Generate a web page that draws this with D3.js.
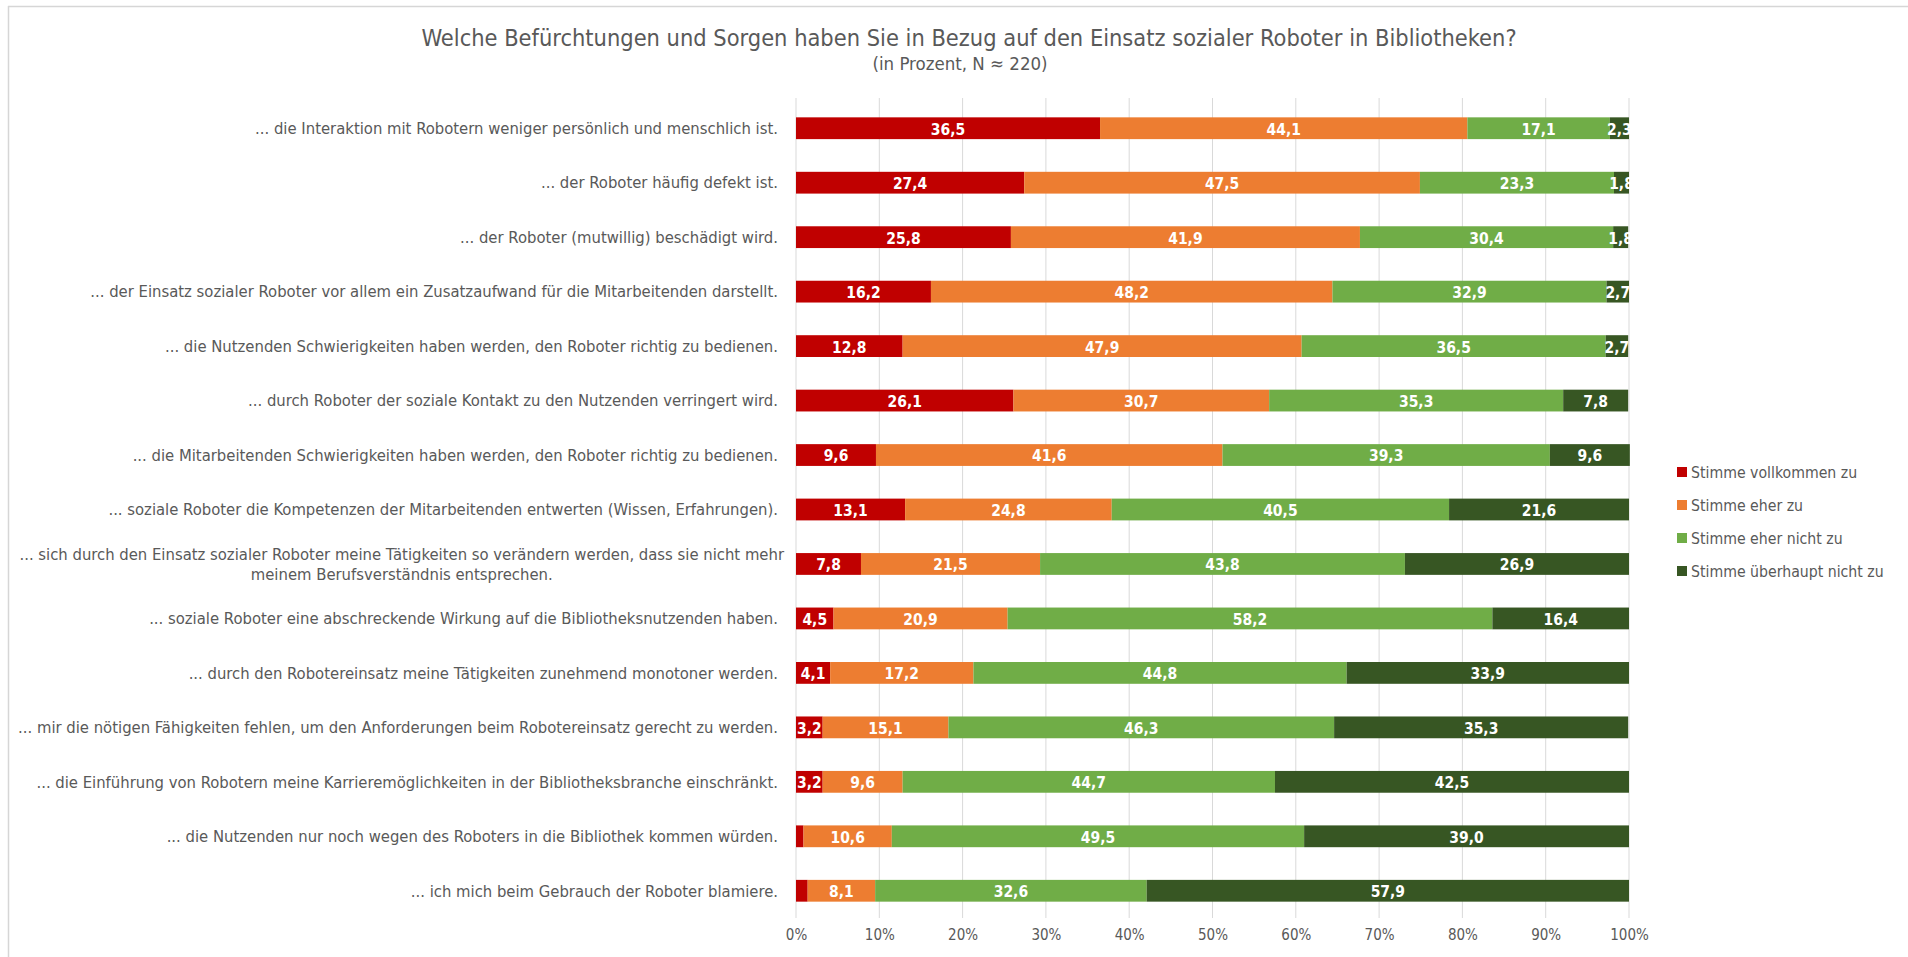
<!DOCTYPE html>
<html>
<head>
<meta charset="utf-8">
<script src="https://cdn.jsdelivr.net/npm/d3@7"></script>
<style>
  html, body { margin: 0; padding: 0; background: #fff; }
  svg { display: block; }
  .f { font-family: "Liberation Sans Narrow", "DejaVu Sans Condensed", "Noto Sans", sans-serif; }
</style>
</head>
<body>
<svg id="chart" width="1908" height="957"></svg>
<script>
const title = "Welche Befürchtungen und Sorgen haben Sie in Bezug auf den Einsatz sozialer Roboter in Bibliotheken?";
const subtitle = "(in Prozent, N ≈ 220)";
const categories = [
  ["... die Interaktion mit Robotern weniger persönlich und menschlich ist."],
  ["... der Roboter häufig defekt ist."],
  ["... der Roboter (mutwillig) beschädigt wird."],
  ["... der Einsatz sozialer Roboter vor allem ein Zusatzaufwand für die Mitarbeitenden darstellt."],
  ["... die Nutzenden Schwierigkeiten haben werden, den Roboter richtig zu bedienen."],
  ["... durch Roboter der soziale Kontakt zu den Nutzenden verringert wird."],
  ["... die Mitarbeitenden Schwierigkeiten haben werden, den Roboter richtig zu bedienen."],
  ["... soziale Roboter die Kompetenzen der Mitarbeitenden entwerten (Wissen, Erfahrungen)."],
  ["... sich durch den Einsatz sozialer Roboter meine Tätigkeiten so verändern werden, dass sie nicht mehr", "meinem Berufsverständnis entsprechen."],
  ["... soziale Roboter eine abschreckende Wirkung auf die Bibliotheksnutzenden haben."],
  ["... durch den Robotereinsatz meine Tätigkeiten zunehmend monotoner werden."],
  ["... mir die nötigen Fähigkeiten fehlen, um den Anforderungen beim Robotereinsatz gerecht zu werden."],
  ["... die Einführung von Robotern meine Karrieremöglichkeiten in der Bibliotheksbranche einschränkt."],
  ["... die Nutzenden nur noch wegen des Roboters in die Bibliothek kommen würden."],
  ["... ich mich beim Gebrauch der Roboter blamiere."]
];
const seriesNames = ["Stimme vollkommen zu", "Stimme eher zu", "Stimme eher nicht zu", "Stimme überhaupt nicht zu"];
const seriesColors = ["#C00000", "#ED7D31", "#70AD47", "#375623"];
const vollkommen = [36.5, 27.4, 25.8, 16.2, 12.8, 26.1, 9.6, 13.1, 7.8, 4.5, 4.1, 3.2, 3.2, 0.9, 1.4];
const eher       = [44.1, 47.5, 41.9, 48.2, 47.9, 30.7, 41.6, 24.8, 21.5, 20.9, 17.2, 15.1, 9.6, 10.6, 8.1];
const eherNicht  = [17.1, 23.3, 30.4, 32.9, 36.5, 35.3, 39.3, 40.5, 43.8, 58.2, 44.8, 46.3, 44.7, 49.5, 32.6];
const ueberhaupt = [2.3, 1.8, 1.8, 2.7, 2.7, 7.8, 9.6, 21.6, 26.9, 16.4, 33.9, 35.3, 42.5, 39.0, 57.9];
const xTicks = [0, 10, 20, 30, 40, 50, 60, 70, 80, 90, 100];

const svg = d3.select("#chart");
const W = 1908, H = 957;
const M = { left: 796, right: 1629, top: 101, bottom: 918 };

// frame (spreadsheet border)
svg.append("line").attr("x1", 8).attr("x2", W).attr("y1", 6.5).attr("y2", 6.5).attr("stroke", "#d6d6d6").attr("stroke-width", 1.5);
svg.append("line").attr("x1", 8.5).attr("x2", 8.5).attr("y1", 6).attr("y2", H).attr("stroke", "#d6d6d6").attr("stroke-width", 1.5);

const x = d3.scaleLinear().domain([0, 100]).range([M.left, M.right]);
const y = d3.scaleBand().domain(d3.range(categories.length)).range([M.top, M.bottom]).paddingInner(0.6).paddingOuter(0.3);

// gridlines
svg.append("g").selectAll("line").data(xTicks).join("line")
  .attr("x1", d => x(d)).attr("x2", d => x(d))
  .attr("y1", M.top - 3).attr("y2", M.bottom)
  .attr("stroke", "#d9d9d9").attr("stroke-width", 1);

// x axis labels
const xAxis = d3.axisBottom(x).tickValues(xTicks).tickFormat(d => d + "%").tickSize(0).tickPadding(0);
const gx = svg.append("g").attr("transform", `translate(0,${M.bottom + 17})`).call(xAxis);
gx.select(".domain").remove();
gx.selectAll("text").attr("font-size", 15).attr("fill", "#595959").attr("dy", "0.35em")
  .style("font-family", '"Liberation Sans Narrow", "DejaVu Sans Condensed", sans-serif');

// stacked data
const rows = categories.map((c, i) => ({ i, v: [vollkommen[i], eher[i], eherNicht[i], ueberhaupt[i]] }));
const keys = [0, 1, 2, 3];
const stack = d3.stack().keys(keys).value((d, k) => d.v[k]);
const stacked = stack(rows);

svg.append("defs").append("clipPath").attr("id", "plotclip")
  .append("rect").attr("x", M.left).attr("y", 0).attr("width", M.right - M.left + 1).attr("height", H);

const layers = svg.append("g").selectAll("g").data(stacked).join("g").attr("fill", (d, k) => seriesColors[k]);
layers.selectAll("rect").data(d => d).join("rect")
  .attr("x", d => x(d[0])).attr("width", d => Math.max(0, x(d[1]) - x(d[0])))
  .attr("y", d => y(d.data.i)).attr("height", y.bandwidth());

// value labels
const lblG = svg.append("g").attr("clip-path", "url(#plotclip)");
stacked.forEach((layer, k) => {
  lblG.append("g").selectAll("text").data(layer.filter(d => d.data.v[k] >= 1.5)).join("text")
    .attr("class", "f")
    .attr("x", d => x((d[0] + d[1]) / 2)).attr("y", d => y(d.data.i) + y.bandwidth() / 2 + 1)
    .attr("text-anchor", "middle").attr("dy", "0.35em")
    .attr("font-size", 15.5).attr("font-weight", "bold").attr("fill", "#fff")
    .text(d => d3.format(".1f")(d.data.v[k]).replace(".", ","));
});

// category labels
const catG = svg.append("g");
const LFS = 16.5;
categories.forEach((lines, i) => {
  const cy = y(i) + y.bandwidth() / 2;
  const n = lines.length;
  const t = catG.append("text").attr("class", "f").attr("font-size", LFS).attr("fill", "#595959");
  if (n === 1) {
    t.attr("x", 778).attr("y", cy).attr("dy", "0.35em").attr("text-anchor", "end").text(lines[0]);
  } else {
    const t1 = t.attr("x", 784).attr("y", cy - 10).attr("dy", "0.35em").attr("text-anchor", "end").text(lines[0]);
    const w = t1.node().getComputedTextLength();
    catG.append("text").attr("class", "f").attr("font-size", LFS).attr("fill", "#595959")
      .attr("x", 784 - w / 2).attr("y", cy + 10).attr("dy", "0.35em").attr("text-anchor", "middle").text(lines[1]);
  }
});

// title
svg.append("text").attr("class", "f").attr("x", 969).attr("y", 38).attr("dy", "0.35em")
  .attr("text-anchor", "middle").attr("font-size", 23.4).attr("fill", "#595959").text(title);
svg.append("text").attr("class", "f").attr("x", 960).attr("y", 64).attr("dy", "0.35em")
  .attr("text-anchor", "middle").attr("font-size", 18.5).attr("fill", "#595959").text(subtitle);

// legend
const lg = svg.append("g").attr("transform", "translate(1677,472)");
const li = lg.selectAll("g").data(seriesNames).join("g").attr("transform", (d, k) => `translate(0,${k * 33})`);
li.append("rect").attr("x", 0).attr("y", -5).attr("width", 10).attr("height", 10).attr("fill", (d, k) => seriesColors[k]);
li.append("text").attr("class", "f").attr("x", 14).attr("y", 0).attr("dy", "0.35em")
  .attr("font-size", 15.7).attr("fill", "#595959").text(d => d);
</script>
</body>
</html>
